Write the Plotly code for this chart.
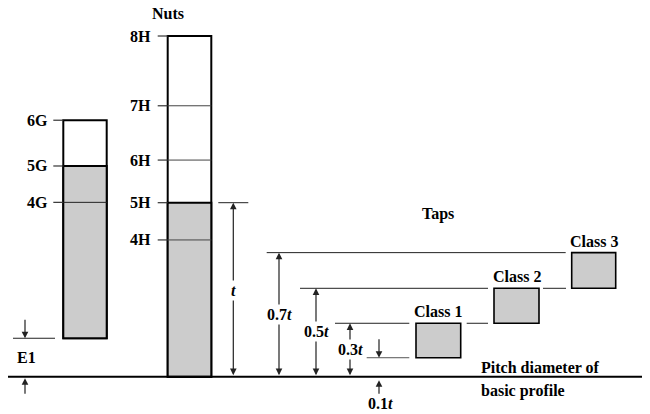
import plotly.graph_objects as go

# ---- data (heights above the pitch-diameter baseline, in units of t) ----
bolt_grades = ["4G", "5G", "6G"]
bolt_levels = [1.002, 1.211, 1.474]
bolt_e1 = 0.221                      # fundamental deviation E1 (bottom of bolt zone)

nut_grades = ["4H", "5H", "6H", "7H", "8H"]
nut_levels = [0.786, 1.0, 1.245, 1.557, 1.958]

tap_classes = ["Class 1", "Class 2", "Class 3"]
tap_limits = [0.109, 0.307, 0.508, 0.713]          # 0.1t, 0.3t, 0.5t, 0.7t
tap_limit_labels = ["0.1", "0.3", "0.5", "0.7"]

# ---- layout constants (pixels) ----
W, H = 650, 414
OFF = 8                      # default page body margin
BASE_PX = 376.7
T_PX = 174.0
FONT = "Liberation Serif"
FS = 16
GRAY = "#cccccc"

bolt_x = (63.3, 106.7)
nut_x = (167.7, 211.3)
tap_x = [(416.0, 460.7), (494.0, 539.0), (571.7, 615.7)]

fig = go.Figure()

def seg(x0, x1, y0, y1, color="black", width=1.0):
    fig.add_trace(go.Scatter(x=[x0, x1], y=[y0, y1], mode="lines",
                             line=dict(color=color, width=width),
                             hoverinfo="skip", showlegend=False))

def bar(xr, base, top, fill, lw=2.0):
    fig.add_trace(go.Bar(x=[(xr[0] + xr[1]) / 2], base=[base], y=[top - base],
                         width=[xr[1] - xr[0]],
                         marker=dict(color=fill, line=dict(color="black", width=lw)),
                         hoverinfo="skip", showlegend=False))

# bolt (G) zone
bar(bolt_x, bolt_e1, bolt_levels[2], "white")
bar(bolt_x, bolt_e1, bolt_levels[1], GRAY)
seg(bolt_x[0], bolt_x[1], bolt_levels[0], bolt_levels[0], "#222222", 1.0)
for g, v in zip(bolt_grades, bolt_levels):
    seg(53.3, bolt_x[0], v, v, "#333333", 1.2)

# nut (H) zone
bar(nut_x, 0.0, nut_levels[4], "white")
bar(nut_x, 0.0, nut_levels[1], GRAY)
for i in (0, 2, 3):
    seg(nut_x[0], nut_x[1], nut_levels[i], nut_levels[i], "#444444", 1.0)
for g, v in zip(nut_grades, nut_levels):
    seg(157.7, nut_x[0], v, v, "#333333", 1.2)

# taps
for (xr, lo, hi) in zip(tap_x, tap_limits[:-1], tap_limits[1:]):
    bar(xr, lo, hi, GRAY, 1.6)

# tap level lines
seg(266.7, 565.7, tap_limits[3], tap_limits[3], "#222222", 1.0)
seg(300.0, 488.0, tap_limits[2], tap_limits[2], "#222222", 1.0)
seg(543.0, 566.0, tap_limits[2], tap_limits[2], "#222222", 1.0)
seg(335.0, 409.3, tap_limits[1], tap_limits[1], "#222222", 1.0)
seg(466.7, 488.0, tap_limits[1], tap_limits[1], "#222222", 1.0)
seg(366.7, 409.3, tap_limits[0], tap_limits[0], "#555555", 1.0)

# t line at 5H
seg(218.3, 248.3, nut_levels[1], nut_levels[1], "#222222", 1.0)

# E1 line
seg(13.0, 55.0, bolt_e1, bolt_e1, "#222222", 1.0)

# baseline
seg(5.0, 650.0, 0.0, 0.0, "black", 2.0)

annotations = []

def arrow(x, y_head, y_tail, both=False):
    annotations.append(dict(x=x, y=y_head, ax=x, ay=y_tail, xref="x", yref="y",
                            axref="x", ayref="y", text="", showarrow=True,
                            arrowhead=2, arrowsize=1.1, arrowwidth=1.2,
                            arrowcolor="#222222", standoff=0, startstandoff=0,
                            arrowside="end+start" if both else "end",
                            startarrowhead=2, startarrowsize=1.1))

def px2t(dp):
    return dp / T_PX

arrow(233.3, nut_levels[1], 0.0, both=True)
arrow(279.0, tap_limits[3], 0.0, both=True)
arrow(316.0, tap_limits[2], 0.0, both=True)
arrow(350.0, tap_limits[1], 0.0, both=True)
arrow(379.0, tap_limits[0], tap_limits[0] + px2t(20))
arrow(379.0, px2t(-3.5), px2t(-18.5))
arrow(25.0, bolt_e1, bolt_e1 + px2t(20))
arrow(25.0, px2t(-1.5), px2t(-18.5))

def text(x, ypx, s, xanchor="center", bg=None):
    d = dict(x=x, y=(BASE_PX - ypx) / T_PX, xref="x", yref="y", text=s,
             showarrow=False, xanchor=xanchor, yanchor="middle",
             font=dict(family=FONT, size=FS, color="black"))
    if bg:
        d["bgcolor"] = bg
    annotations.append(d)

for g, v in zip(bolt_grades, bolt_levels):
    text(50, BASE_PX - v * T_PX, f"<b>{g}</b>", "right")
for g, v in zip(nut_grades, nut_levels):
    text(153, BASE_PX - v * T_PX, f"<b>{g}</b>", "right")

text(168, 13, "<b>Nuts</b>")
text(26, 357, "<b>E1</b>")
text(438, 214, "<b>Taps</b>")
for (xr, hi, name) in zip(tap_x, tap_limits[1:], tap_classes):
    text((xr[0] + xr[1]) / 2, BASE_PX - hi * T_PX - 11.5, f"<b>{name}</b>")

text(233.3, 290, "<b><i>t</i></b>", bg="white")
text(279.0, 314, f"<b>{tap_limit_labels[3]}<i>t</i></b>", bg="white")
text(316.0, 331.5, f"<b>{tap_limit_labels[2]}<i>t</i></b>", bg="white")
text(350.0, 349.5, f"<b>{tap_limit_labels[1]}<i>t</i></b>", bg="white")
text(380.0, 403, f"<b>{tap_limit_labels[0]}<i>t</i></b>")
text(479, 367, "<b>Pitch diameter of</b>", "left")
text(479, 391, "<b>basic profile</b>", "left")

fig.update_layout(
    width=W - OFF, height=H - OFF, margin=dict(l=0, r=0, t=0, b=0),
    paper_bgcolor="white", plot_bgcolor="white", barmode="overlay",
    showlegend=False, annotations=annotations,
    xaxis=dict(range=[OFF, W], visible=False, fixedrange=True),
    yaxis=dict(range=[(BASE_PX - H) / T_PX, (BASE_PX - OFF) / T_PX],
               visible=False, fixedrange=True),
)

fig.write_html("out.html")
